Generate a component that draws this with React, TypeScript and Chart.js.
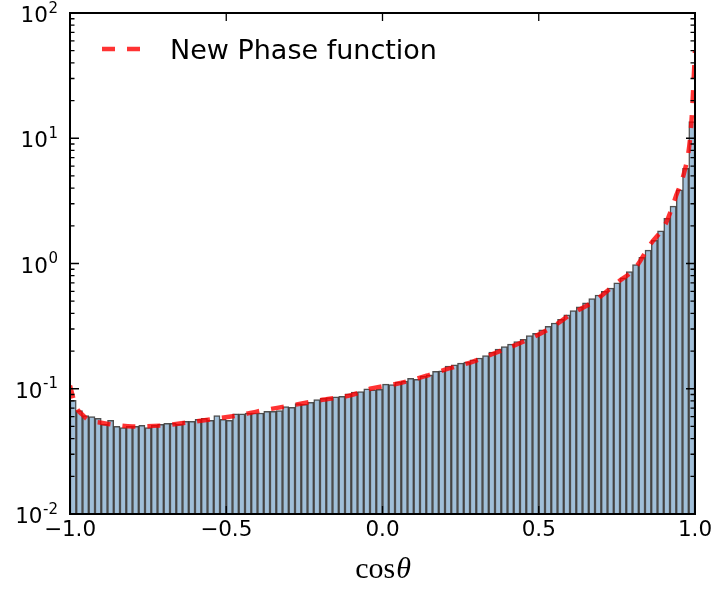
import React, { useEffect, useRef } from 'react';
import { Chart, registerables } from 'chart.js';

Chart.register(...registerables);

// Histogram: 100 bins over cos(theta) in [-1, 1]
const binMin = -1;
const binMax = 1;
const histValues = [
  0.081, 0.067, 0.061, 0.060, 0.058, 0.052, 0.056, 0.050, 0.049, 0.050,
  0.050, 0.051, 0.049, 0.051, 0.052, 0.053, 0.053, 0.052, 0.055, 0.055,
  0.057, 0.058, 0.056, 0.061, 0.057, 0.056, 0.063, 0.063, 0.064, 0.064,
  0.064, 0.066, 0.066, 0.067, 0.072, 0.071, 0.076, 0.075, 0.078, 0.082,
  0.084, 0.085, 0.086, 0.087, 0.091, 0.094, 0.095, 0.100, 0.098, 0.099,
  0.109, 0.108, 0.113, 0.115, 0.121, 0.119, 0.126, 0.129, 0.138, 0.139,
  0.152, 0.155, 0.160, 0.163, 0.170, 0.176, 0.184, 0.196, 0.207, 0.217,
  0.227, 0.238, 0.248, 0.266, 0.277, 0.295, 0.315, 0.335, 0.358, 0.390,
  0.420, 0.450, 0.485, 0.525, 0.560, 0.600, 0.635, 0.700, 0.770, 0.860,
  0.980, 1.120, 1.280, 1.530, 1.820, 2.290, 2.870, 3.870, 5.750, 13.60,
];

// "New Phase function" curve
const curveCos = [
  -1.0, -0.99, -0.98, -0.96, -0.94, -0.90, -0.87, -0.80, -0.70, -0.62,
  -0.55, -0.45, -0.40, -0.30, -0.20, -0.10, -0.04, 0.05, 0.14, 0.20,
  0.29, 0.376, 0.45, 0.533, 0.608, 0.677, 0.75, 0.81, 0.856, 0.907,
  0.94, 0.966, 0.982, 0.989, 0.994, 1.0,
];
const curveValues = [
  0.106, 0.085, 0.071, 0.062, 0.056, 0.0535, 0.052, 0.050, 0.051, 0.054,
  0.057, 0.062, 0.066, 0.073, 0.081, 0.089, 0.100, 0.110, 0.127, 0.142,
  0.165, 0.200, 0.237, 0.300, 0.400, 0.500, 0.700, 0.930, 1.410, 2.100,
  3.500, 5.400, 8.800, 14.0, 24.0, 50.0,
];

const xTickValues = [-1, -0.5, 0, 0.5, 1];
const xTickLabels = ['\u22121.0', '\u22120.5', '0.0', '0.5', '1.0'];
const yTickExponents = [-2, -1, 0, 1, 2];
const yTickExpLabels = ['-2', '-1', '0', '1', '2'];
const legendLabel = 'New Phase function';
const xTitleMain = 'cos';
const xTitleSymbol = '\u03B8';

export default function App() {
  const ref = useRef<HTMLCanvasElement>(null);

  useEffect(() => {
    document.body.style.margin = '0';
    const canvas = ref.current;
    if (!canvas) return;

    const binWidth = (binMax - binMin) / histValues.length;
    const barData = histValues.map((v, i) => ({ x: binMin + (i + 0.5) * binWidth, y: v }));
    const lineData = curveCos.map((c, i) => ({ x: c, y: curveValues[i] }));

    const framePlugin = {
      id: 'framePlugin',
      afterDraw(chart: any) {
        const { ctx, chartArea: a, scales } = chart;
        const xs = scales.x;
        const ys = scales.y;
        ctx.save();
        ctx.strokeStyle = '#000';
        ctx.lineCap = 'butt';

        // y ticks (major + minor), inward on both sides
        ctx.lineWidth = 1.3;
        for (let e = -2; e <= 2; e++) {
          const yp = ys.getPixelForValue(Math.pow(10, e));
          ctx.beginPath();
          ctx.moveTo(a.left, yp); ctx.lineTo(a.left + 9, yp);
          ctx.moveTo(a.right, yp); ctx.lineTo(a.right - 9, yp);
          ctx.stroke();
          if (e < 2) {
            for (let k = 2; k <= 9; k++) {
              const ym = ys.getPixelForValue(k * Math.pow(10, e));
              ctx.beginPath();
              ctx.moveTo(a.left, ym); ctx.lineTo(a.left + 4.5, ym);
              ctx.moveTo(a.right, ym); ctx.lineTo(a.right - 4.5, ym);
              ctx.stroke();
            }
          }
        }
        // x ticks, inward top and bottom
        xTickValues.forEach((v) => {
          const xp = xs.getPixelForValue(v);
          ctx.beginPath();
          ctx.moveTo(xp, a.bottom); ctx.lineTo(xp, a.bottom - 8);
          ctx.moveTo(xp, a.top); ctx.lineTo(xp, a.top + 8);
          ctx.stroke();
        });

        // frame
        ctx.lineWidth = 2;
        ctx.strokeRect(a.left, a.top, a.right - a.left, a.bottom - a.top);

        // x tick labels
        ctx.fillStyle = '#000';
        ctx.font = '21.5px "DejaVu Sans"';
        ctx.textAlign = 'center';
        ctx.textBaseline = 'alphabetic';
        xTickValues.forEach((v, i) => {
          const xp = xs.getPixelForValue(v);
          ctx.fillText(xTickLabels[i], xp, a.bottom + 22);
        });

        // y tick labels 10^e
        const rightEdge = a.left - 12;
        yTickExponents.forEach((e, i) => {
          const yp = ys.getPixelForValue(Math.pow(10, e));
          ctx.font = '15px "DejaVu Sans"';
          ctx.textAlign = 'right';
          const supW = ctx.measureText(yTickExpLabels[i]).width;
          ctx.fillText(yTickExpLabels[i], rightEdge, yp - 0.5);
          ctx.font = '21.5px "DejaVu Sans"';
          ctx.fillText('10', rightEdge - supW - 0.5, yp + 9);
        });

        // x axis title: cos θ
        ctx.textAlign = 'left';
        ctx.font = '30px "Liberation Serif"';
        const wMain = ctx.measureText(xTitleMain).width;
        ctx.font = 'italic 30px "Liberation Serif"';
        const wSym = ctx.measureText(xTitleSymbol).width;
        const cx = (a.left + a.right) / 2;
        const startX = cx - (wMain + wSym) / 2;
        ctx.font = '30px "Liberation Serif"';
        ctx.fillText(xTitleMain, startX, 578);
        ctx.font = 'italic 30px "Liberation Serif"';
        ctx.fillText(xTitleSymbol, startX + wMain + 1, 578);

        // legend
        ctx.strokeStyle = 'rgba(255,0,0,0.8)';
        ctx.lineWidth = 4.5;
        ctx.setLineDash([13, 12]);
        ctx.beginPath();
        ctx.moveTo(a.left + 32, a.top + 36);
        ctx.lineTo(a.left + 70, a.top + 36);
        ctx.stroke();
        ctx.setLineDash([]);
        ctx.font = '27px "DejaVu Sans"';
        ctx.fillStyle = '#000';
        ctx.fillText(legendLabel, a.left + 100, a.top + 46);
        ctx.restore();
      },
    };

    const chart = new Chart(canvas, {
      type: 'bar',
      data: {
        datasets: [
          {
            type: 'line',
            label: legendLabel,
            data: lineData,
            borderColor: 'rgba(255,0,0,0.8)',
            borderWidth: 4.5,
            borderDash: [13, 12],
            pointRadius: 0,
            cubicInterpolationMode: 'monotone',
            fill: false,
            order: 1,
          } as any,
          {
            type: 'bar',
            label: 'histogram',
            data: barData,
            backgroundColor: 'rgb(160,191,217)',
            borderColor: 'rgba(30,30,30,0.78)',
            borderWidth: 1.5,
            barPercentage: 1,
            categoryPercentage: 1,
            order: 2,
          } as any,
        ],
      },
      options: {
        responsive: false,
        animation: false,
        layout: { padding: { left: 70, right: 17, top: 13, bottom: 76 } },
        plugins: { legend: { display: false }, tooltip: { enabled: false } },
        scales: {
          x: { type: 'linear', min: -1, max: 1, offset: false, display: false, grid: { offset: false } },
          y: { type: 'logarithmic', min: 0.01, max: 100, display: false },
        },
      } as any,
      plugins: [framePlugin],
    });

    return () => chart.destroy();
  }, []);

  return <canvas ref={ref} width={712} height={590} style={{ display: 'block' }} />;
}
